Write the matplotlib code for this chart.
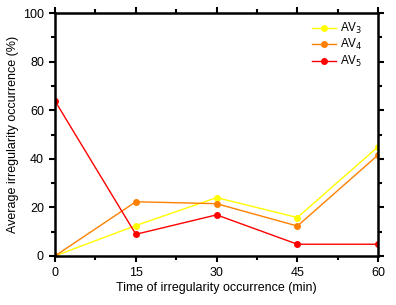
import matplotlib

matplotlib.use("Agg")
import matplotlib.pyplot as plt
from matplotlib.ticker import MultipleLocator

plt.rcParams["font.family"] = ["Liberation Sans", "DejaVu Sans"]

times = [0, 15, 30, 45, 60]
av3 = [0, 12.5, 24, 15.8, 45]
av4 = [0, 22.3, 21.5, 12.3, 41.6]
av5 = [63.8, 8.9, 16.9, 4.8, 4.8]

series = [
    (av3, "#ffff00", r"AV$_3$"),
    (av4, "#ff8000", r"AV$_4$"),
    (av5, "#ff0000", r"AV$_5$"),
]

fig = plt.figure(figsize=(3.96, 3.05), dpi=100)
ax = fig.add_axes([0.139, 0.161, 0.816, 0.796])

for vals, color, label in series:
    ax.plot(times, vals, color=color, linewidth=1.0, marker="o", markersize=4,
            markeredgecolor=color, markerfacecolor=color, label=label)

ax.set_xlim(0, 60)
ax.set_ylim(0, 100)
ax.xaxis.set_major_locator(MultipleLocator(15))
ax.xaxis.set_minor_locator(MultipleLocator(7.5))
ax.yaxis.set_major_locator(MultipleLocator(20))
ax.yaxis.set_minor_locator(MultipleLocator(10))
ax.tick_params(which="both", direction="out", top=True, right=True,
               labeltop=False, labelright=False, width=1.5, labelsize=9)
ax.tick_params(which="major", length=4.5)
ax.tick_params(which="minor", length=3)
for s in ax.spines.values():
    s.set_linewidth(1.8)

ax.set_xlabel("Time of irregularity occurrence (min)", fontsize=9, labelpad=2)
ax.set_ylabel("Average irregularity occurrence (%)", fontsize=9, labelpad=3)

ax.legend(loc="upper left", bbox_to_anchor=(0.768, 0.958),
          bbox_transform=fig.transFigure, frameon=False,
          fontsize=8.5, handlelength=2.0, handletextpad=0.3,
          labelspacing=0.1, borderpad=0.2)

fig.savefig("out.png", dpi=100)
